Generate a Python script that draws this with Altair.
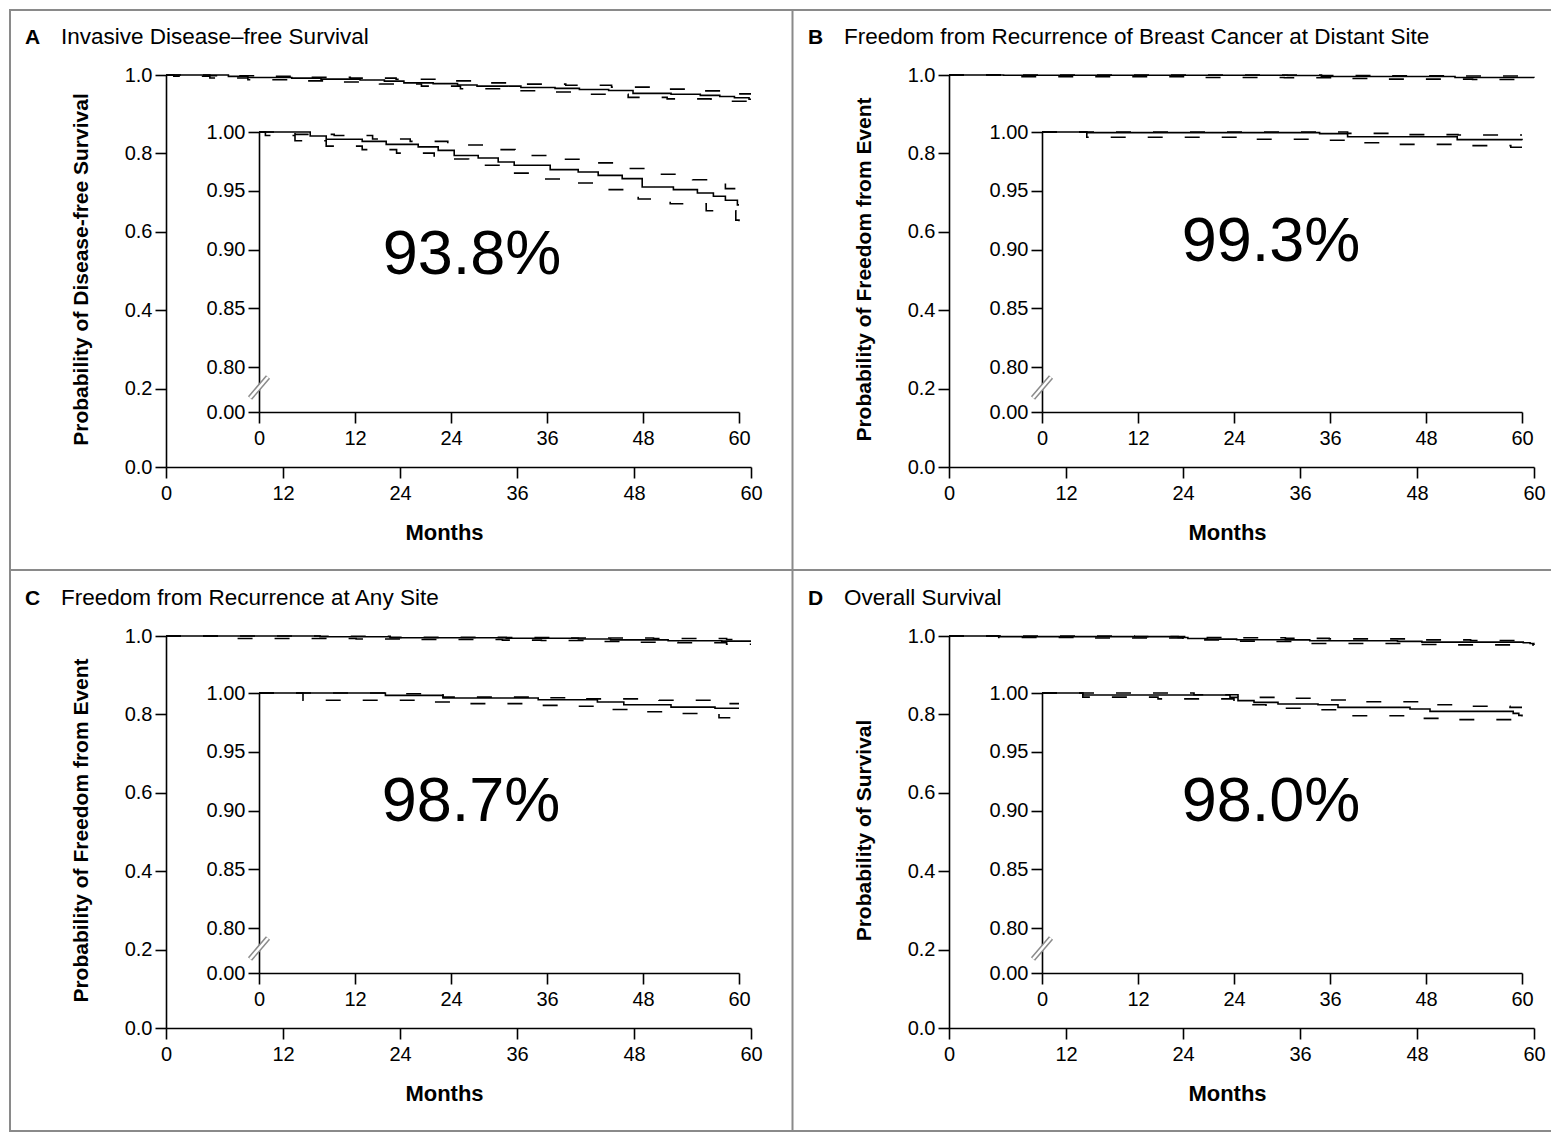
import altair as alt
import pandas as pd

FONT = "Liberation Sans, Arial, Helvetica, sans-serif"

# ---------------- text / tick arrays ----------------
MONTH_TICKS = [0, 12, 24, 36, 48, 60]
MAIN_Y_TICKS = [0.0, 0.2, 0.4, 0.6, 0.8, 1.0]
INSET_Y_TICKS = [0.00, 0.80, 0.85, 0.90, 0.95, 1.00]
INSET_Y_BREAK = [0.00, 0.80, 1.00]

PANEL_LETTERS = ["A", "B", "C", "D"]
PANEL_TITLES = [
    "Invasive Disease\u2013free Survival",
    "Freedom from Recurrence of Breast Cancer at Distant Site",
    "Freedom from Recurrence at Any Site",
    "Overall Survival",
]
Y_TITLES = [
    "Probability of Disease-free Survival",
    "Probability of Freedom from Event",
    "Probability of Freedom from Event",
    "Probability of Survival",
]
X_TITLE = "Months"
FIVE_YEAR = ["93.8%", "99.3%", "98.7%", "98.0%"]

# ---------------- Kaplan-Meier data (months, probability) ----------------
# A: invasive disease-free survival
A_est_t = [0, 6.4, 8.4, 12.9, 15.9, 19.9, 22.4, 24.4, 27.4, 29.9, 31.9, 36.4, 39.9, 42.4, 45.4, 47.9, 51.8, 54.8, 56.8, 58.3, 59.8, 60]
A_est_s = [1.000, 0.9966, 0.9938, 0.992, 0.9895, 0.9873, 0.9844, 0.980, 0.9779, 0.9745, 0.9717, 0.968, 0.966, 0.9631, 0.9603, 0.9532, 0.951, 0.9481, 0.9453, 0.9419, 0.938, 0.938]
A_up_t = [0, 4.5, 9.4, 14.2, 18.9, 23.6, 27.9, 32.0, 36.5, 41.0, 45.7, 49.7, 54.2, 58.3, 60]
A_up_s = [1.000, 0.998, 0.997, 0.994, 0.992, 0.989, 0.985, 0.980, 0.9768, 0.9737, 0.969, 0.964, 0.9594, 0.9518, 0.9518]
A_lo_t = [0, 0.8, 4.5, 8.4, 12.9, 17.2, 21.9, 26.2, 30.2, 34.4, 38.7, 43.2, 47.4, 51.4, 55.9, 59.6, 60]
A_lo_s = [1.000, 0.997, 0.9925, 0.988, 0.985, 0.982, 0.977, 0.9717, 0.965, 0.960, 0.9566, 0.951, 0.943, 0.939, 0.933, 0.925, 0.924]

# B: freedom from distant recurrence
B_est_t = [0, 5.6, 34.7, 38.2, 51.9, 60]
B_est_s = [1.000, 0.9995, 0.9986, 0.996, 0.9935, 0.993]
B_up_t = [0, 38.2, 44.0, 52.0, 60]
B_up_s = [1.000, 0.9988, 0.9978, 0.9975, 0.9975]
B_lo_t = [0, 5.6, 24.5, 34.4, 39.3, 43.8, 53.7, 58.6, 60]
B_lo_s = [1.000, 0.9955, 0.9938, 0.993, 0.9909, 0.9895, 0.9884, 0.987, 0.987]

# C: freedom from recurrence at any site
C_est_t = [0, 15.8, 23.0, 34.9, 42.3, 45.6, 51.5, 57.0, 60]
C_est_s = [1.000, 0.998, 0.9957, 0.9943, 0.9923, 0.990, 0.988, 0.987, 0.987]
C_up_t = [0, 15.8, 23.0, 34.9, 40.5, 50.0, 57.5, 60]
C_up_s = [1.000, 0.9993, 0.9965, 0.996, 0.995, 0.9938, 0.991, 0.991]
C_lo_t = [0, 5.5, 19.5, 24.5, 34.5, 38.5, 43.0, 47.5, 52.5, 57.5, 60]
C_lo_s = [1.000, 0.9938, 0.9923, 0.991, 0.9895, 0.9887, 0.986, 0.984, 0.9826, 0.979, 0.979]

# D: overall survival
D_est_t = [0, 5.1, 23.5, 24.5, 26.5, 29.5, 34.5, 37.0, 46.0, 48.5, 58.9, 59.6, 60]
D_est_s = [1.000, 0.9983, 0.9963, 0.9935, 0.992, 0.9906, 0.990, 0.9878, 0.9864, 0.9844, 0.9827, 0.981, 0.980]
D_up_t = [0, 19.0, 24.5, 29.5, 34.5, 39.0, 48.5, 53.5, 58.5, 60]
D_up_s = [1.000, 0.9985, 0.9963, 0.9955, 0.994, 0.9926, 0.990, 0.9887, 0.9878, 0.9878]
D_lo_t = [0, 5.1, 14.5, 24.0, 28.0, 33.0, 37.0, 47.0, 51.5, 60]
D_lo_s = [1.000, 0.9965, 0.995, 0.990, 0.987, 0.9858, 0.9807, 0.9784, 0.9773, 0.977]

SERIES = ["estimate", "upper 95% CI", "lower 95% CI"]

# ---------------- layout constants ----------------
W, H = 585, 392
INSET_X_RANGE = [93, 573]
INSET_Y_RANGE = [337, 292, 57]
GRAY = "#8a8a8a"
ONE = pd.DataFrame({"k": [0]})


def build_df(est_t, est_s, up_t, up_s, lo_t, lo_s):
    return pd.concat([
        pd.DataFrame({"t": est_t, "s": est_s, "series": SERIES[0]}),
        pd.DataFrame({"t": up_t, "s": up_s, "series": SERIES[1]}),
        pd.DataFrame({"t": lo_t, "s": lo_s, "series": SERIES[2]}),
    ], ignore_index=True)


def text_layer(txt, x, y, size, weight="normal", align="left", font=FONT):
    return alt.Chart(ONE).mark_text(
        text=txt, font=font, fontSize=size, fontWeight=weight,
        align=align, baseline="alphabetic", color="black"
    ).encode(x=alt.value(x), y=alt.value(y))


def rule_layer(x, y, x2, y2, color, width):
    return alt.Chart(ONE).mark_rule(color=color, strokeWidth=width).encode(
        x=alt.value(x), y=alt.value(y), x2=alt.value(x2), y2=alt.value(y2)
    )


def panel(i, df, pct_xy, borders=False):
    dash = alt.StrokeDash(
        "series:N",
        scale=alt.Scale(domain=SERIES, range=[[1, 0], [15, 22], [15, 22]]),
        legend=None,
    )
    base = alt.Chart(df).mark_line(interpolate="step-after", color="black", strokeWidth=1.6)

    main = base.encode(
        x=alt.X("t:Q", scale=alt.Scale(domain=[0, 60], nice=False, zero=False),
                axis=alt.Axis(values=MONTH_TICKS, format="d", title=X_TITLE,
                              titleFontSize=22, titleFontWeight="bold",
                              titleX=278, titleY=72, titleBaseline="alphabetic",
                              labelPadding=5)),
        y=alt.Y("s:Q", scale=alt.Scale(domain=[0, 1], nice=False, zero=False),
                axis=alt.Axis(values=MAIN_Y_TICKS, format=".1f", title=Y_TITLES[i],
                              titleFontSize=21, titleFontWeight="bold",
                              titleX=-79, titleY=194, titleAngle=-90,
                              titleBaseline="alphabetic", labelPadding=3)),
        strokeDash=dash,
    )
    inset = base.encode(
        x=alt.X("t:Q", scale=alt.Scale(domain=[0, 60], range=INSET_X_RANGE, nice=False, zero=False),
                axis=alt.Axis(values=MONTH_TICKS, format="d", title=None, orient="bottom",
                              offset=-(H - INSET_Y_RANGE[0]), labelPadding=5)),
        y=alt.Y("s:Q", scale=alt.Scale(domain=INSET_Y_BREAK, range=INSET_Y_RANGE, nice=False, zero=False),
                axis=alt.Axis(values=INSET_Y_TICKS, format=".2f", title=None, orient="left",
                              offset=-INSET_X_RANGE[0], labelPadding=3)),
        strokeDash=dash,
    )

    layers = [main, inset]
    # axis break marks on the inset y axis
    layers.append(rule_layer(84, 323, 102, 302, GRAY, 5.5))
    layers.append(rule_layer(84, 323, 102, 302, "white", 2.5))
    # panel letter and title
    layers.append(text_layer(PANEL_LETTERS[i], -141, -31, 21, weight="bold"))
    layers.append(text_layer(PANEL_TITLES[i], -105, -31, 22.5))
    # 5-year estimate
    layers.append(text_layer(FIVE_YEAR[i], pct_xy[0], pct_xy[1], 63, align="center",
                             font="Liberation Sans, Arial, sans-serif"))
    if borders:
        layers.append(rule_layer(-156, -66, -156, 1057, GRAY, 2))      # left
        layers.append(rule_layer(-157, -65, 1385, -65, GRAY, 2))       # top
        layers.append(rule_layer(-157, 1056, 1385, 1056, GRAY, 2))     # bottom
        layers.append(rule_layer(626.5, -66, 626.5, 1057, GRAY, 2))    # vertical divider
        layers.append(rule_layer(-157, 495, 1385, 495, GRAY, 2))       # horizontal divider

    return alt.layer(*layers).resolve_scale(x="independent", y="independent").properties(width=W, height=H)


pA = panel(0, build_df(A_est_t, A_est_s, A_up_t, A_up_s, A_lo_t, A_lo_s), (306, 199), borders=True)
pB = panel(1, build_df(B_est_t, B_est_s, B_up_t, B_up_s, B_lo_t, B_lo_s), (322, 186))
pC = panel(2, build_df(C_est_t, C_est_s, C_up_t, C_up_s, C_lo_t, C_lo_s), (305, 185))
pD = panel(3, build_df(D_est_t, D_est_s, D_up_t, D_up_s, D_lo_t, D_lo_s), (322, 185))

chart = alt.concat(
    pA, pB, pC, pD, columns=2,
    spacing={"row": 169, "column": 198}, bounds="flush",
).properties(
    padding=0, background="white"
).configure_view(
    stroke=None
).configure_axis(
    labelFont=FONT, labelFontSize=20, labelColor="black",
    titleFont=FONT, titleColor="black",
    domainColor="black", tickColor="black", domainWidth=1.6, tickWidth=1.6,
    tickSize=11, labelFlush=False, labelOverlap=False, grid=False,
)

chart.save("out.html", embed_options={"renderer": "svg", "actions": False})
